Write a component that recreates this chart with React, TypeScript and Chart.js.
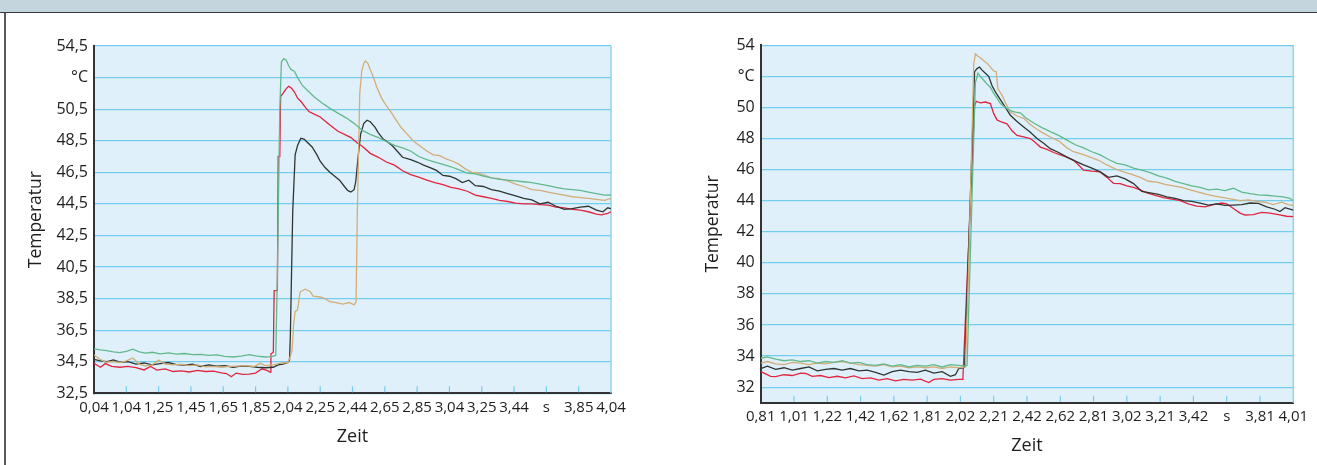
import React, { useEffect, useRef } from "react";
import { Chart, registerables } from "chart.js";

Chart.register(...registerables);

// ---------- DATA ----------
const X_STEP = 0.2;

const leftXStart = 0.84;
const leftXLabels = ["0,04", "1,04", "1,25", "1,45", "1,65", "1,85", "2,04", "2,25", "2,44", "2,65", "2,85", "3,04", "3,25", "3,44", "s", "3,85", "4,04"];
const leftYTicks = [32.5, 34.5, 36.5, 38.5, 40.5, 42.5, 44.5, 46.5, 48.5, 50.5, 52.5, 54.5];
const leftYLabels = ["32,5", "34,5", "36,5", "38,5", "40,5", "42,5", "44,5", "46,5", "48,5", "50,5", "°C", "54,5"];

const rightXStart = 0.81;
const rightXLabels = ["0,81", "1,01", "1,22", "1,42", "1,62", "1,81", "2,02", "2,21", "2,42", "2,62", "2,81", "3,02", "3,21", "3,42", "s", "3,81", "4,01"];
const rightYTicks = [32, 34, 36, 38, 40, 42, 44, 46, 48, 50, 52, 54];
const rightYLabels = ["32", "34", "36", "38", "40", "42", "44", "46", "48", "50", "°C", "54"];

const yTitle = "Temperatur";
const xTitle = "Zeit";

// [time s, temperature °C]
const leftGreen: [number, number][] = [
  [0.84, 35.32], [0.88, 35.25], [0.92, 35.2], [0.96, 35.12], [1.0, 35.08], [1.04, 35.15], [1.08, 35.3], [1.12, 35.12],
  [1.16, 35.05], [1.2, 35.1], [1.25, 35.0], [1.3, 35.06], [1.35, 34.98], [1.4, 35.02], [1.45, 34.95], [1.5, 34.97],
  [1.55, 34.9], [1.6, 34.93], [1.65, 34.84], [1.7, 34.8], [1.75, 34.86], [1.8, 34.95], [1.85, 34.85], [1.9, 34.8],
  [1.94, 34.82], [1.965, 34.9], [1.975, 40.0], [1.99, 50.5], [2.0, 53.5], [2.015, 53.7], [2.03, 53.6], [2.045, 53.25],
  [2.06, 53.0], [2.08, 52.9], [2.1, 52.5], [2.13, 52.0], [2.16, 51.7], [2.2, 51.3], [2.25, 50.9], [2.3, 50.55],
  [2.35, 50.25], [2.4, 49.95], [2.45, 49.6], [2.5, 49.15], [2.55, 48.9], [2.6, 48.7], [2.65, 48.45], [2.7, 48.2],
  [2.75, 48.05], [2.8, 47.85], [2.85, 47.5], [2.9, 47.3], [2.95, 47.15], [3.0, 47.0], [3.05, 46.85], [3.1, 46.65],
  [3.15, 46.45], [3.2, 46.4], [3.25, 46.25], [3.3, 46.15], [3.35, 46.05], [3.4, 46.0], [3.45, 45.95], [3.5, 45.9],
  [3.55, 45.85], [3.6, 45.75], [3.65, 45.65], [3.7, 45.55], [3.75, 45.45], [3.8, 45.4], [3.85, 45.35], [3.9, 45.25],
  [3.95, 45.15], [4.0, 45.05], [4.04, 45.06],
];

const leftRed: [number, number][] = [
  [0.84, 34.4], [0.88, 34.15], [0.91, 34.38], [0.95, 34.2], [1.0, 34.15], [1.05, 34.2], [1.1, 34.12], [1.15, 33.98],
  [1.19, 34.2], [1.23, 33.97], [1.28, 34.05], [1.33, 33.88], [1.38, 33.92], [1.43, 33.85], [1.48, 33.95], [1.53, 33.88],
  [1.58, 33.9], [1.63, 33.8], [1.66, 33.75], [1.69, 33.55], [1.72, 33.78], [1.76, 33.7], [1.8, 33.72], [1.84, 33.78],
  [1.88, 34.05], [1.91, 33.95], [1.93, 33.85], [1.935, 35.0], [1.95, 35.1], [1.955, 39.0], [1.975, 39.0], [1.98, 47.5],
  [1.99, 47.5], [1.995, 51.3], [2.01, 51.5], [2.03, 51.8], [2.045, 51.95], [2.06, 51.85], [2.08, 51.6], [2.1, 51.2],
  [2.12, 51.0], [2.15, 50.6], [2.17, 50.35], [2.2, 50.2], [2.24, 50.0], [2.27, 49.75], [2.3, 49.5], [2.35, 49.1],
  [2.4, 48.85], [2.43, 48.7], [2.47, 48.35], [2.5, 48.15], [2.55, 47.7], [2.6, 47.45], [2.65, 47.15], [2.7, 46.95],
  [2.75, 46.6], [2.8, 46.35], [2.85, 46.2], [2.9, 46.0], [2.95, 45.85], [3.0, 45.72], [3.05, 45.55], [3.1, 45.45],
  [3.15, 45.3], [3.2, 45.05], [3.25, 44.95], [3.3, 44.85], [3.35, 44.72], [3.4, 44.65], [3.45, 44.55], [3.5, 44.5],
  [3.55, 44.5], [3.6, 44.45], [3.65, 44.42], [3.7, 44.3], [3.75, 44.25], [3.8, 44.15], [3.85, 44.1], [3.9, 44.0],
  [3.95, 43.85], [3.98, 43.8], [4.02, 43.9], [4.04, 44.0],
];

const leftBlack: [number, number][] = [
  [0.84, 34.65], [0.88, 34.55], [0.92, 34.5], [0.96, 34.62], [1.0, 34.48], [1.05, 34.5], [1.1, 34.35], [1.15, 34.42],
  [1.2, 34.3], [1.25, 34.38], [1.3, 34.45], [1.35, 34.32], [1.4, 34.28], [1.45, 34.35], [1.5, 34.2], [1.55, 34.3],
  [1.6, 34.22], [1.65, 34.25], [1.7, 34.15], [1.75, 34.22], [1.8, 34.2], [1.85, 34.15], [1.9, 34.12], [1.95, 34.15],
  [1.98, 34.3], [2.01, 34.35], [2.04, 34.45], [2.05, 34.6], [2.055, 36.0], [2.07, 44.0], [2.085, 47.6], [2.1, 48.2],
  [2.12, 48.65], [2.14, 48.6], [2.16, 48.4], [2.19, 48.1], [2.22, 47.6], [2.24, 47.2], [2.27, 46.8], [2.3, 46.5],
  [2.33, 46.25], [2.36, 46.0], [2.39, 45.6], [2.41, 45.35], [2.43, 45.25], [2.45, 45.4], [2.46, 45.9], [2.475, 47.5],
  [2.49, 48.9], [2.51, 49.6], [2.53, 49.8], [2.55, 49.7], [2.58, 49.35], [2.6, 49.0], [2.63, 48.6], [2.66, 48.4],
  [2.69, 48.15], [2.72, 47.8], [2.75, 47.45], [2.8, 47.3], [2.84, 47.15], [2.88, 46.95], [2.92, 46.8], [2.96, 46.62],
  [3.0, 46.3], [3.04, 46.25], [3.08, 46.1], [3.12, 45.85], [3.16, 46.0], [3.2, 45.65], [3.25, 45.6], [3.3, 45.4],
  [3.35, 45.3], [3.4, 45.15], [3.45, 45.0], [3.5, 44.85], [3.55, 44.75], [3.6, 44.5], [3.65, 44.6], [3.7, 44.35],
  [3.75, 44.15], [3.8, 44.2], [3.85, 44.3], [3.9, 44.35], [3.95, 44.1], [3.99, 44.0], [4.02, 44.25], [4.04, 44.2],
];

const leftTan: [number, number][] = [
  [0.84, 34.93], [0.87, 34.7], [0.91, 34.48], [0.95, 34.5], [1.0, 34.45], [1.04, 34.55], [1.08, 34.74], [1.12, 34.35],
  [1.16, 34.23], [1.2, 34.3], [1.24, 34.6], [1.28, 34.35], [1.33, 34.3], [1.38, 34.35], [1.43, 34.25], [1.48, 34.3],
  [1.53, 34.18], [1.58, 34.2], [1.63, 34.15], [1.68, 34.2], [1.73, 34.22], [1.78, 34.25], [1.83, 34.2], [1.87, 34.4],
  [1.9, 34.25], [1.95, 34.3], [2.0, 34.42], [2.04, 34.45], [2.054, 34.82], [2.066, 35.24], [2.075, 36.8], [2.085, 37.67],
  [2.1, 37.8], [2.116, 38.93], [2.147, 39.1], [2.178, 38.95], [2.196, 38.66], [2.24, 38.6], [2.27, 38.5], [2.3, 38.3],
  [2.34, 38.25], [2.38, 38.15], [2.42, 38.25], [2.45, 38.1], [2.462, 38.3], [2.47, 44.0], [2.485, 51.5], [2.497, 52.9],
  [2.51, 53.4], [2.52, 53.55], [2.535, 53.4], [2.55, 53.0], [2.57, 52.5], [2.59, 51.9], [2.62, 51.2], [2.65, 50.7],
  [2.68, 50.3], [2.71, 49.8], [2.74, 49.35], [2.78, 48.9], [2.82, 48.45], [2.86, 48.15], [2.9, 47.85], [2.94, 47.6],
  [2.98, 47.55], [3.02, 47.35], [3.06, 47.2], [3.1, 47.0], [3.14, 46.7], [3.18, 46.5], [3.22, 46.45], [3.26, 46.3],
  [3.3, 46.15], [3.35, 46.1], [3.4, 45.95], [3.45, 45.75], [3.5, 45.6], [3.55, 45.4], [3.6, 45.35], [3.65, 45.25],
  [3.7, 45.15], [3.75, 45.05], [3.8, 44.95], [3.85, 44.9], [3.9, 44.85], [3.95, 44.78], [4.0, 44.72], [4.04, 44.85],
];

const rightGreen: [number, number][] = [
  [0.81, 33.86], [0.85, 33.95], [0.9, 33.8], [0.95, 33.7], [1.0, 33.75], [1.05, 33.65], [1.1, 33.7], [1.15, 33.55],
  [1.2, 33.65], [1.25, 33.6], [1.3, 33.7], [1.35, 33.55], [1.4, 33.6], [1.45, 33.45], [1.5, 33.4], [1.55, 33.5],
  [1.6, 33.35], [1.65, 33.45], [1.7, 33.3], [1.75, 33.4], [1.8, 33.35], [1.85, 33.45], [1.9, 33.3], [1.95, 33.45],
  [2.0, 33.4], [2.04, 33.35], [2.05, 33.4], [2.1, 51.6], [2.115, 52.2], [2.13, 52.0], [2.15, 51.75], [2.17, 51.5],
  [2.19, 51.3], [2.21, 50.9], [2.23, 50.6], [2.25, 50.25], [2.28, 50.0], [2.31, 49.8], [2.34, 49.7], [2.37, 49.65],
  [2.4, 49.35], [2.45, 49.0], [2.5, 48.7], [2.55, 48.45], [2.6, 48.2], [2.65, 47.9], [2.7, 47.6], [2.75, 47.4],
  [2.8, 47.15], [2.85, 46.95], [2.9, 46.65], [2.95, 46.4], [3.0, 46.3], [3.05, 46.1], [3.1, 45.97], [3.15, 45.8],
  [3.2, 45.6], [3.25, 45.45], [3.3, 45.25], [3.35, 45.1], [3.4, 44.95], [3.45, 44.85], [3.5, 44.7], [3.55, 44.75],
  [3.6, 44.65], [3.65, 44.8], [3.7, 44.55], [3.75, 44.45], [3.8, 44.38], [3.85, 44.35], [3.9, 44.3], [3.95, 44.25],
  [3.99, 44.15], [4.01, 44.0],
];

const rightRed: [number, number][] = [
  [0.81, 33.0], [0.84, 32.85], [0.87, 32.7], [0.9, 32.68], [0.95, 32.8], [1.0, 32.75], [1.05, 32.9], [1.08, 32.88],
  [1.12, 32.7], [1.17, 32.75], [1.22, 32.62], [1.27, 32.7], [1.32, 32.6], [1.37, 32.72], [1.42, 32.55], [1.47, 32.6],
  [1.52, 32.45], [1.57, 32.55], [1.62, 32.4], [1.67, 32.5], [1.72, 32.45], [1.77, 32.52], [1.82, 32.3], [1.85, 32.5],
  [1.9, 32.55], [1.95, 32.45], [2.0, 32.5], [2.02, 32.5], [2.025, 32.6], [2.095, 50.1], [2.105, 50.4], [2.13, 50.3],
  [2.16, 50.35], [2.19, 50.25], [2.21, 49.6], [2.23, 49.2], [2.26, 49.05], [2.29, 48.95], [2.32, 48.5], [2.35, 48.2],
  [2.39, 48.1], [2.43, 48.0], [2.46, 47.75], [2.49, 47.45], [2.53, 47.3], [2.57, 47.1], [2.61, 46.95], [2.65, 46.8],
  [2.69, 46.6], [2.72, 46.3], [2.75, 45.97], [2.8, 45.9], [2.85, 45.85], [2.89, 45.5], [2.93, 45.12], [2.97, 45.1],
  [3.01, 44.95], [3.05, 44.85], [3.09, 44.69], [3.13, 44.5], [3.18, 44.35], [3.23, 44.2], [3.28, 44.1], [3.33, 44.0],
  [3.38, 43.8], [3.43, 43.65], [3.48, 43.6], [3.53, 43.75], [3.58, 43.85], [3.61, 43.8], [3.65, 43.5], [3.69, 43.2],
  [3.72, 43.08], [3.77, 43.1], [3.82, 43.25], [3.87, 43.2], [3.92, 43.1], [3.97, 43.0], [4.01, 42.97],
];

const rightBlack: [number, number][] = [
  [0.81, 33.2], [0.85, 33.35], [0.9, 33.15], [0.95, 33.25], [1.0, 33.1], [1.05, 33.2], [1.1, 33.3], [1.15, 33.05],
  [1.2, 33.15], [1.25, 33.2], [1.3, 33.1], [1.35, 33.2], [1.4, 33.05], [1.45, 33.1], [1.5, 32.95], [1.55, 32.78],
  [1.6, 33.0], [1.65, 33.1], [1.7, 33.0], [1.75, 32.95], [1.8, 33.1], [1.85, 32.9], [1.9, 33.0], [1.95, 32.7],
  [1.98, 32.8], [2.0, 33.2], [2.03, 33.25], [2.035, 33.3], [2.095, 52.3], [2.11, 52.5], [2.125, 52.6], [2.14, 52.4],
  [2.16, 52.2], [2.18, 52.0], [2.2, 51.4], [2.22, 51.0], [2.25, 50.5], [2.28, 50.0], [2.31, 49.5], [2.35, 49.1],
  [2.39, 48.75], [2.43, 48.4], [2.47, 48.0], [2.51, 47.7], [2.55, 47.35], [2.6, 47.1], [2.65, 46.8], [2.7, 46.55],
  [2.75, 46.3], [2.8, 46.1], [2.85, 45.85], [2.9, 45.5], [2.95, 45.6], [3.0, 45.4], [3.05, 45.1], [3.1, 44.6],
  [3.15, 44.5], [3.2, 44.4], [3.25, 44.25], [3.3, 44.15], [3.35, 44.0], [3.4, 43.95], [3.45, 43.85], [3.5, 43.72],
  [3.55, 43.8], [3.6, 43.7], [3.65, 43.72], [3.7, 43.75], [3.75, 43.85], [3.8, 43.83], [3.85, 43.6], [3.9, 43.45],
  [3.93, 43.3], [3.96, 43.55], [4.01, 43.4],
];

const rightTan: [number, number][] = [
  [0.81, 33.54], [0.85, 33.65], [0.9, 33.5], [0.95, 33.45], [1.0, 33.6], [1.05, 33.55], [1.1, 33.45], [1.15, 33.55],
  [1.2, 33.5], [1.25, 33.6], [1.3, 33.65], [1.35, 33.55], [1.4, 33.45], [1.45, 33.4], [1.5, 33.35], [1.55, 33.45],
  [1.6, 33.3], [1.65, 33.35], [1.7, 33.25], [1.75, 33.3], [1.8, 33.25], [1.85, 33.3], [1.9, 33.2], [1.95, 33.3],
  [2.0, 33.25], [2.04, 33.3], [2.06, 40.0], [2.09, 52.8], [2.1, 53.45], [2.115, 53.3], [2.13, 53.2], [2.15, 53.0],
  [2.17, 52.85], [2.19, 52.6], [2.21, 52.35], [2.225, 52.3], [2.235, 51.2], [2.26, 50.8], [2.28, 50.3], [2.31, 49.7],
  [2.35, 49.45], [2.39, 49.3], [2.43, 48.9], [2.47, 48.6], [2.5, 48.4], [2.55, 48.1], [2.6, 47.85], [2.65, 47.4],
  [2.69, 47.15], [2.74, 47.0], [2.79, 46.8], [2.84, 46.6], [2.89, 46.3], [2.94, 46.05], [2.99, 45.85], [3.04, 45.7],
  [3.09, 45.5], [3.14, 45.25], [3.19, 45.2], [3.24, 45.05], [3.29, 44.95], [3.34, 44.85], [3.39, 44.7], [3.44, 44.55],
  [3.49, 44.4], [3.54, 44.3], [3.59, 44.2], [3.64, 44.1], [3.69, 44.0], [3.74, 44.05], [3.79, 43.95], [3.84, 43.9],
  [3.89, 43.75], [3.94, 43.9], [3.98, 43.75], [4.01, 43.7],
];

// ---------- STYLE ----------
const FONT = "'Open Sans', 'Noto Sans', sans-serif";
const TEXT = "#1e1e1e";
const PLOT_BG = "#dff0fa";
const GRID = "#74cdee";
const AXIS = "#333333";
const C_GREEN = "#62b98c";
const C_RED = "#e2243f";
const C_BLACK = "#2f3532";
const C_TAN = "#d3ad78";

const plotDecor = {
  id: "plotDecor",
  beforeDraw(chart: any) {
    const { ctx, chartArea: a } = chart;
    ctx.save();
    ctx.fillStyle = PLOT_BG;
    ctx.fillRect(a.left, a.top, a.right - a.left, a.bottom - a.top);
    ctx.restore();
  },
  beforeDatasetsDraw(chart: any) {
    const { ctx, chartArea: a } = chart;
    const x = chart.scales.x;
    ctx.save();
    ctx.strokeStyle = "#8fd5f0";
    ctx.lineWidth = 1.5;
    ctx.beginPath();
    ctx.moveTo(a.right, a.top);
    ctx.lineTo(a.right, a.bottom);
    ctx.stroke();
    ctx.strokeStyle = GRID;
    ctx.lineWidth = 1.2;
    x.ticks.forEach((t: any, i: number) => {
      if (i === 0 || i === x.ticks.length - 1) return;
      const px = x.getPixelForValue(t.value);
      ctx.beginPath();
      ctx.moveTo(px, a.bottom - 1);
      ctx.lineTo(px, a.bottom - 7);
      ctx.stroke();
    });
    ctx.restore();
  },
};

type Spec = {
  series: { points: [number, number][]; color: string }[];
  xStart: number;
  xLabels: string[];
  yTicks: number[];
  yLabels: string[];
  yMin: number;
  padding: { left: number; top: number; right: number; bottom: number };
  yAxisWidth: number;
  xAxisHeight: number;
};

function buildConfig(p: Spec): any {
  const xMax = p.xStart + (p.xLabels.length - 1) * X_STEP;
  return {
    type: "line",
    data: {
      datasets: p.series.map((s) => ({
        data: s.points.map(([x, y]) => ({ x, y })),
        borderColor: s.color,
        borderWidth: 1.3,
        pointRadius: 0,
        tension: 0,
        fill: false,
      })),
    },
    options: {
      animation: false,
      responsive: false,
      maintainAspectRatio: false,
      layout: { padding: p.padding },
      plugins: { legend: { display: false }, tooltip: { enabled: false } },
      scales: {
        x: {
          type: "linear",
          min: p.xStart,
          max: xMax,
          afterBuildTicks: (s: any) => {
            s.ticks = p.xLabels.map((_, i) => ({ value: p.xStart + i * X_STEP }));
          },
          afterFit: (s: any) => {
            s.height = p.xAxisHeight;
          },
          ticks: {
            autoSkip: false,
            maxRotation: 0,
            minRotation: 0,
            padding: 5,
            color: TEXT,
            font: { family: FONT, size: 15 },
            callback: (_v: any, i: number) => p.xLabels[i],
          },
          grid: { display: false, drawTicks: false },
          border: { display: true, color: AXIS, width: 2 },
          title: {
            display: true,
            text: xTitle,
            color: TEXT,
            font: { family: FONT, size: 18 },
            padding: { top: 0, bottom: 4 },
          },
        },
        y: {
          type: "linear",
          min: p.yMin,
          max: p.yTicks[p.yTicks.length - 1],
          afterBuildTicks: (s: any) => {
            s.ticks = p.yTicks.map((v) => ({ value: v }));
          },
          afterFit: (s: any) => {
            s.width = p.yAxisWidth;
          },
          ticks: {
            padding: 6,
            color: TEXT,
            font: { family: FONT, size: 16 },
            callback: (_v: any, i: number) => p.yLabels[i],
          },
          grid: { color: GRID, lineWidth: 1.2, drawTicks: false },
          border: { display: true, color: AXIS, width: 2 },
          title: {
            display: true,
            text: yTitle,
            color: TEXT,
            font: { family: FONT, size: 17.5 },
            padding: { top: 4, bottom: 0 },
          },
        },
      },
    },
    plugins: [plotDecor],
  };
}

const leftSpec: Spec = {
  series: [
    { points: leftGreen, color: C_GREEN },
    { points: leftTan, color: C_TAN },
    { points: leftBlack, color: C_BLACK },
    { points: leftRed, color: C_RED },
  ],
  xStart: leftXStart,
  xLabels: leftXLabels,
  yTicks: leftYTicks,
  yLabels: leftYLabels,
  yMin: 32.5,
  padding: { left: 22, top: 46, right: 21, bottom: 13.2 },
  yAxisWidth: 72,
  xAxisHeight: 58.5,
};

const rightSpec: Spec = {
  series: [
    { points: rightGreen, color: C_GREEN },
    { points: rightTan, color: C_TAN },
    { points: rightBlack, color: C_BLACK },
    { points: rightRed, color: C_RED },
  ],
  xStart: rightXStart,
  xLabels: rightXLabels,
  yTicks: rightYTicks,
  yLabels: rightYLabels,
  yMin: 31,
  padding: { left: 59, top: 45.3, right: 23.7, bottom: 4.2 },
  yAxisWidth: 61.7,
  xAxisHeight: 58.1,
};

function ChartCanvas({ left, width, spec }: { left: number; width: number; spec: Spec }) {
  const ref = useRef<HTMLCanvasElement | null>(null);
  useEffect(() => {
    if (!ref.current) return;
    const chart = new Chart(ref.current, buildConfig(spec));
    return () => chart.destroy();
  }, [spec]);
  return (
    <canvas
      ref={ref}
      width={width}
      height={465}
      style={{ position: "absolute", left, top: 0, width, height: 465 }}
    />
  );
}

export default function App() {
  return (
    <div
      style={{
        position: "absolute",
        left: 0,
        top: 0,
        width: 1317,
        height: 465,
        background: "#ffffff",
        overflow: "hidden",
        fontFamily: FONT,
      }}
    >
      <div
        style={{
          position: "absolute",
          left: 0,
          top: 0,
          width: 1317,
          height: 12,
          background: "#c5d5de",
          borderBottom: "1.5px solid #3a3a3a",
        }}
      />
      <div style={{ position: "absolute", left: 4, top: 13, width: 1.5, height: 452, background: "#5a5a5a" }} />
      <ChartCanvas left={0} width={632} spec={leftSpec} />
      <ChartCanvas left={640} width={677} spec={rightSpec} />
    </div>
  );
}
